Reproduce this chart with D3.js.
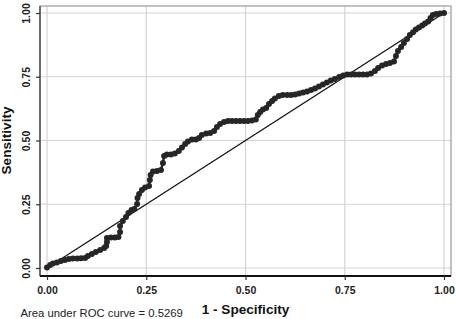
<!DOCTYPE html>
<html>
<head>
<meta charset="utf-8">
<script src="https://cdn.jsdelivr.net/npm/d3@7"></script>
<style>
  body { margin: 0; background: #fff; }
  svg { display: block; font-family: "Liberation Sans", Arial, sans-serif; }
</style>
</head>
<body>
<div id="chart"></div>
<script>
// ROC curve points: 1 - specificity, sensitivity
const fpr = [0.000, 0.008, 0.015, 0.025, 0.035, 0.045, 0.055, 0.065, 0.076, 0.086,
  0.096, 0.103, 0.113, 0.123, 0.134, 0.144, 0.149, 0.151, 0.151, 0.161,
  0.171, 0.180, 0.184, 0.184, 0.191, 0.199, 0.205, 0.213, 0.220, 0.227,
  0.228, 0.232, 0.239, 0.247, 0.257, 0.259, 0.261, 0.267, 0.277, 0.287,
  0.292, 0.295, 0.302, 0.312, 0.322, 0.332, 0.340, 0.348, 0.355, 0.365,
  0.375, 0.383, 0.390, 0.401, 0.411, 0.421, 0.428, 0.436, 0.446, 0.456,
  0.466, 0.476, 0.486, 0.496, 0.506, 0.516, 0.526, 0.531, 0.537, 0.544,
  0.552, 0.559, 0.567, 0.574, 0.584, 0.594, 0.605, 0.615, 0.625, 0.635,
  0.645, 0.655, 0.665, 0.675, 0.685, 0.695, 0.705, 0.715, 0.725, 0.736,
  0.746, 0.756, 0.766, 0.776, 0.786, 0.796, 0.806, 0.816, 0.826, 0.834,
  0.844, 0.854, 0.864, 0.874, 0.879, 0.884, 0.892, 0.899, 0.907, 0.914,
  0.922, 0.929, 0.937, 0.945, 0.952, 0.960, 0.966, 0.972, 0.980, 0.990, 1.000];
const tpr = [0.002, 0.012, 0.018, 0.022, 0.027, 0.031, 0.035, 0.037, 0.037, 0.038,
  0.039, 0.047, 0.055, 0.063, 0.071, 0.078, 0.086, 0.102, 0.118, 0.120,
  0.120, 0.122, 0.141, 0.165, 0.184, 0.200, 0.216, 0.227, 0.231, 0.251,
  0.275, 0.290, 0.306, 0.316, 0.322, 0.345, 0.365, 0.378, 0.380, 0.384,
  0.412, 0.439, 0.445, 0.445, 0.449, 0.459, 0.473, 0.486, 0.496, 0.504,
  0.504, 0.510, 0.522, 0.527, 0.529, 0.537, 0.553, 0.565, 0.573, 0.576,
  0.576, 0.576, 0.576, 0.576, 0.576, 0.578, 0.582, 0.600, 0.612, 0.622,
  0.627, 0.643, 0.655, 0.665, 0.675, 0.678, 0.678, 0.678, 0.680, 0.684,
  0.688, 0.692, 0.698, 0.704, 0.712, 0.720, 0.727, 0.735, 0.741, 0.749,
  0.755, 0.759, 0.759, 0.759, 0.759, 0.759, 0.759, 0.763, 0.773, 0.784,
  0.794, 0.800, 0.804, 0.810, 0.831, 0.851, 0.867, 0.882, 0.898, 0.914,
  0.925, 0.935, 0.943, 0.951, 0.959, 0.967, 0.980, 0.992, 0.996, 0.998, 1.000];
const refLine = [0, 1];
const ticks = [0, 0.25, 0.5, 0.75, 1];
const xTitle = "1 - Specificity";
const yTitle = "Sensitivity";
const note = "Area under ROC curve = 0.5269";

const width = 456, height = 319;
const frame = {left: 40, top: 6, right: 451, bottom: 276};

const svg = d3.select("#chart").append("svg")
    .attr("width", width)
    .attr("height", height);

const x = d3.scaleLinear().domain([0, 1]).range([47, 444]);
const y = d3.scaleLinear().domain([0, 1]).range([268, 13]);

/* grid lines */
svg.append("g").selectAll("line.gx")
    .data(ticks).join("line")
    .attr("x1", d => x(d)).attr("x2", d => x(d))
    .attr("y1", frame.top).attr("y2", frame.bottom)
    .attr("stroke", "#d4d4d4").attr("stroke-width", 1.2);
svg.append("g").selectAll("line.gy")
    .data(ticks).join("line")
    .attr("x1", frame.left).attr("x2", frame.right)
    .attr("y1", d => y(d)).attr("y2", d => y(d))
    .attr("stroke", "#d4d4d4").attr("stroke-width", 1.2);

/* plot region outline */
svg.append("rect")
    .attr("x", frame.left).attr("y", frame.top)
    .attr("width", frame.right - frame.left)
    .attr("height", frame.bottom - frame.top)
    .attr("fill", "none").attr("stroke", "#9a9a9a").attr("stroke-width", 1.2);
svg.append("line")
    .attr("x1", frame.left).attr("x2", frame.left)
    .attr("y1", frame.top).attr("y2", frame.bottom)
    .attr("stroke", "#555").attr("stroke-width", 1.6);
svg.append("line")
    .attr("x1", frame.left).attr("x2", frame.right)
    .attr("y1", frame.bottom).attr("y2", frame.bottom)
    .attr("stroke", "#111").attr("stroke-width", 1.8);

/* axes */
const xAxis = svg.append("g")
    .attr("transform", `translate(0,${frame.bottom})`)
    .call(d3.axisBottom(x).tickValues(ticks).tickFormat(d3.format(".2f")).tickSize(4).tickPadding(6));
const yAxis = svg.append("g")
    .attr("transform", `translate(${frame.left},0)`)
    .call(d3.axisLeft(y).tickValues(ticks).tickFormat(d3.format(".2f")).tickSize(4).tickPadding(0));

[xAxis, yAxis].forEach(g => {
    g.select(".domain").remove();
    g.selectAll(".tick line").attr("stroke", "#333").attr("stroke-width", 1.2);
    g.selectAll("text")
        .attr("fill", "#222")
        .style("font-size", "10.5px")
        .style("font-weight", "bold");
});
xAxis.selectAll("text").attr("dy", "0.75em");
yAxis.selectAll("text")
    .attr("x", null).attr("dy", null)
    .attr("text-anchor", "middle")
    .attr("transform", "translate(-10,0) rotate(-90)");

/* diagonal reference line */
svg.append("line")
    .attr("x1", x(refLine[0])).attr("y1", y(refLine[0]))
    .attr("x2", x(refLine[1])).attr("y2", y(refLine[1]))
    .attr("stroke", "#111").attr("stroke-width", 1.3);

/* ROC curve */
const pts = fpr.map((d, i) => ({fpr: d, tpr: tpr[i]}));
const line = d3.line().x(d => x(d.fpr)).y(d => y(d.tpr));
svg.append("path")
    .datum(pts)
    .attr("d", line)
    .attr("fill", "none")
    .attr("stroke", "#262626")
    .attr("stroke-width", 2.4);
svg.append("g").selectAll("circle")
    .data(pts).join("circle")
    .attr("cx", d => x(d.fpr))
    .attr("cy", d => y(d.tpr))
    .attr("r", 3)
    .attr("fill", "#262626");

/* titles */
svg.append("text")
    .attr("x", x(0.5)).attr("y", 314)
    .attr("text-anchor", "middle")
    .style("font-size", "13.6px").style("font-weight", "bold")
    .attr("fill", "#111")
    .text(xTitle);
svg.append("text")
    .attr("transform", `translate(11,${y(0.5)}) rotate(-90)`)
    .attr("text-anchor", "middle")
    .style("font-size", "13.6px").style("font-weight", "bold")
    .attr("fill", "#111")
    .text(yTitle);
svg.append("text")
    .attr("x", 20.5).attr("y", 317)
    .style("font-size", "11.3px")
    .attr("fill", "#222")
    .text(note);
</script>
</body>
</html>
